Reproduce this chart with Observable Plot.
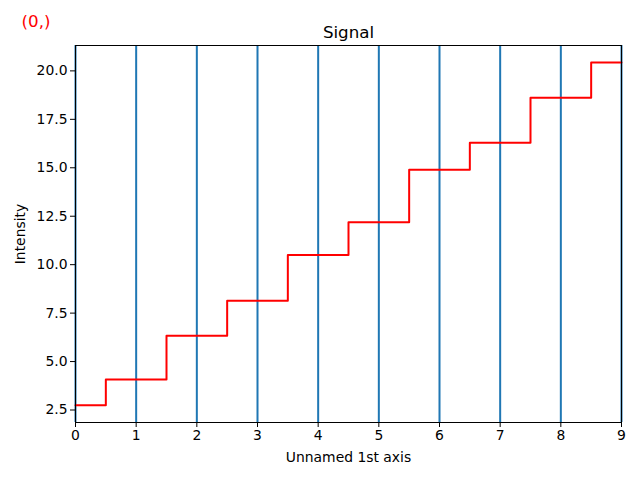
<!DOCTYPE html>
<html>
<head>
<meta charset="utf-8">
<script src="https://cdn.jsdelivr.net/npm/d3@7"></script>
<script src="https://cdn.jsdelivr.net/npm/@observablehq/plot@0.6"></script>
<style>
  html, body { margin: 0; padding: 0; background: white; }
</style>
</head>
<body>
<div id="chart"></div>
<script>
const xs = [0, 1, 2, 3, 4, 5, 6, 7, 8, 9];
const intensity = [2.74, 4.07, 6.33, 8.14, 10.5, 12.19, 14.9, 16.29, 18.62, 20.43];
const vlines = [0, 1, 2, 3, 4, 5, 6, 7, 8, 9];
const xTicks = [0, 1, 2, 3, 4, 5, 6, 7, 8, 9];
const yTicks = [2.5, 5.0, 7.5, 10.0, 12.5, 15.0, 17.5, 20.0];
const titleText = "Signal";
const cornerText = "(0,)";
const xLabel = "Unnamed 1st axis";
const yLabel = "Intensity";

const data = xs.map((x, i) => ({x, y: intensity[i]}));

const chart = Plot.plot({
  width: 640,
  height: 480,
  marginLeft: 75,
  marginRight: 19,
  marginTop: 45,
  marginBottom: 58,
  x: {domain: [0, 9]},
  y: {domain: [1.855, 21.31]},
  style: {fontFamily: "DejaVu Sans", fontSize: "13.9px", color: "black", background: "white"},
  marks: [
    Plot.ruleX(vlines, {x: d => d, stroke: "#1f77b4", strokeWidth: 2}),
    Plot.line(data, {x: "x", y: "y", curve: "step", stroke: "red", strokeWidth: 2}),
    Plot.frame({stroke: "black", strokeWidth: 1}),
    Plot.axisX({ticks: xTicks, tickSize: 5, tickPadding: 3, label: xLabel, labelAnchor: "center", labelArrow: "none", labelOffset: 39}),
    Plot.axisY({ticks: yTicks, tickFormat: d3.format(".1f"), tickSize: 5, tickPadding: 3, label: yLabel, labelAnchor: "center", labelArrow: "none", labelOffset: 60}),
    Plot.text([titleText], {text: d => d, frameAnchor: "top", lineAnchor: "middle", dy: -13, fontSize: 16.7, fill: "black"}),
    Plot.text([cornerText], {text: d => d, frameAnchor: "top-left", lineAnchor: "middle", dx: -54, dy: -24, fontSize: 16.7, fill: "red", textAnchor: "start"})
  ]
});
document.getElementById("chart").appendChild(chart);
</script>
</body>
</html>
